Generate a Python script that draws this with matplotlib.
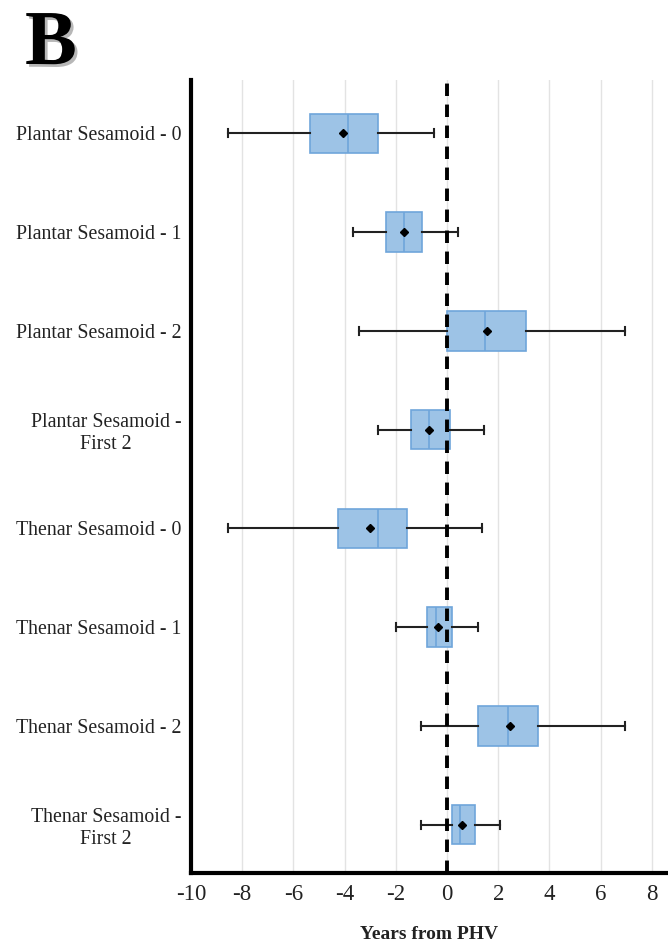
import matplotlib
matplotlib.use("Agg")
import matplotlib.pyplot as plt
import matplotlib.patheffects as pe

# ── Data (years from PHV) ──
LABELS = ["Plantar Sesamoid - 0", "Plantar Sesamoid - 1", "Plantar Sesamoid - 2",
          "Plantar Sesamoid -\nFirst 2", "Thenar Sesamoid - 0", "Thenar Sesamoid - 1",
          "Thenar Sesamoid - 2", "Thenar Sesamoid -\nFirst 2"]
WHISK_LO = [-8.56, -3.66, -3.42, -2.68, -8.56, -1.99, -1.00, -1.00]
Q1       = [-5.36, -2.39,  0.01, -1.39, -4.26, -0.80,  1.21,  0.18]
MEDIAN   = [-3.88, -1.70,  1.50, -0.70, -2.70, -0.44,  2.37,  0.52]
MEAN     = [-4.07, -1.69,  1.58, -0.70, -3.02, -0.35,  2.45,  0.57]
Q3       = [-2.69, -0.96,  3.07,  0.12, -1.57,  0.18,  3.54,  1.09]
WHISK_HI = [-0.52,  0.43,  6.94,  1.43,  1.38,  1.21,  6.94,  2.05]
XTICKS   = [-10, -8, -6, -4, -2, 0, 2, 4, 6, 8]

BOX_FILL = "#9DC3E6"
BOX_EDGE = "#6FA5DA"
TEXT = "#222222"
SERIF = ["Liberation Serif", "DejaVu Serif"]

fig = plt.figure(figsize=(6.68, 9.47), dpi=100)
ax = fig.add_axes([191 / 668, 74 / 947, 477 / 668, 793 / 947])

stats = [dict(label=l, whislo=wl, q1=a, med=m, mean=mu, q3=b, whishi=wh, fliers=[])
         for l, wl, a, m, mu, b, wh in zip(LABELS, WHISK_LO, Q1, MEDIAN, MEAN, Q3, WHISK_HI)]
pos = list(range(len(LABELS)))

ax.bxp(stats, positions=pos, orientation="horizontal", widths=0.4, capwidths=0.08,
       showmeans=True, patch_artist=True, showfliers=False,
       boxprops=dict(facecolor=BOX_FILL, edgecolor=BOX_EDGE, linewidth=1.2),
       medianprops=dict(color=BOX_EDGE, linewidth=1.2),
       whiskerprops=dict(color="#222222", linewidth=1.5),
       capprops=dict(color="#222222", linewidth=1.5),
       meanprops=dict(marker="D", markerfacecolor="black", markeredgecolor="black",
                      markersize=4.5))

# PHV reference line
ax.axvline(0, color="black", linestyle=(0, (3.2, 2.2)), linewidth=2.8, zorder=5)

ax.set_xlim(-10, 8.63)
ax.set_ylim(7.49, -0.54)
ax.set_xticks(XTICKS)
ax.set_xticklabels([str(t) for t in XTICKS], fontsize=16.5, family=SERIF, color=TEXT)
ax.set_yticks(pos)
ax.set_yticklabels(LABELS, fontsize=14.3, family=SERIF, color=TEXT, multialignment="center")
ax.tick_params(axis="both", length=0)
ax.tick_params(axis="x", pad=8)
ax.tick_params(axis="y", pad=7)

ax.grid(axis="x", color="#E3E3E3", linewidth=1)
ax.set_axisbelow(True)
for s in ["top", "right"]:
    ax.spines[s].set_visible(False)
for s in ["left", "bottom"]:
    ax.spines[s].set_linewidth(3)
    ax.spines[s].set_color("black")

ax.set_xlabel("Years from PHV", fontsize=14, fontweight="bold", family=SERIF,
              color=TEXT, labelpad=15)

fig.text(25 / 668, 1 - 64 / 947, "B", fontsize=56, fontweight="bold", family=SERIF,
         path_effects=[pe.withSimplePatchShadow(offset=(2, -2), shadow_rgbFace="#888888", alpha=0.6)])

fig.savefig("out.png", dpi=100)
